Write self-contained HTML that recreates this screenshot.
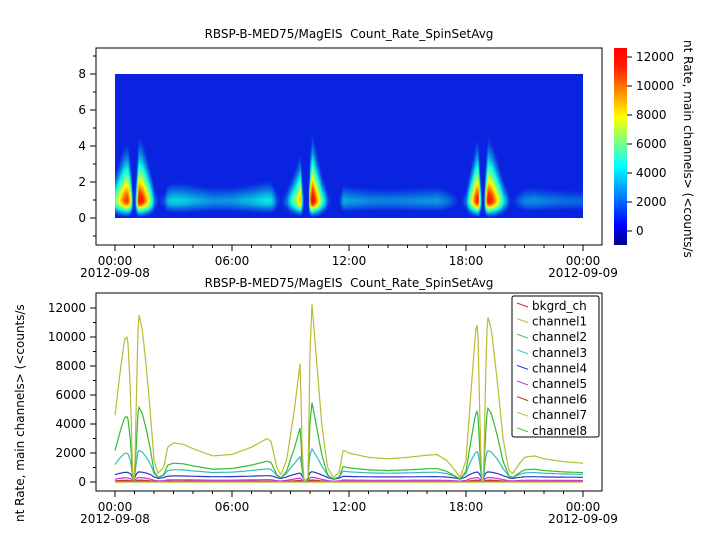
<!DOCTYPE html>
<html><head><meta charset="utf-8"><style>
body{margin:0;background:#fff;width:722px;height:539px;overflow:hidden;font-family:"DejaVu Sans","Liberation Sans",sans-serif}
svg text{font-family:"DejaVu Sans","Liberation Sans",sans-serif;font-size:12px;fill:#000;white-space:pre}
#hm{position:absolute;left:115px;top:74px}
#svg{position:absolute;left:0;top:0}
</style></head><body>
<canvas id="hm" width="468" height="144"></canvas>
<svg id="svg" width="722" height="539" xmlns="http://www.w3.org/2000/svg">
<defs><linearGradient id="jet" x1="0" y1="1" x2="0" y2="0">
<stop offset="0" stop-color="#000090"/><stop offset="0.1" stop-color="#0000ff"/><stop offset="0.4" stop-color="#00ffff"/><stop offset="0.65" stop-color="#ffff00"/><stop offset="0.9" stop-color="#ff2000"/><stop offset="1" stop-color="#ff0000"/></linearGradient></defs>
<text x="349" y="38" text-anchor="middle" xml:space="preserve">RBSP-B-MED75/MagEIS  Count_Rate_SpinSetAvg</text>
<text x="349" y="287" text-anchor="middle" xml:space="preserve">RBSP-B-MED75/MagEIS  Count_Rate_SpinSetAvg</text>
<rect x="96" y="48" width="506" height="197" fill="none" stroke="#000"/>
<rect x="96" y="293" width="506" height="198" fill="none" stroke="#000"/>
<rect x="614" y="48" width="13" height="197" fill="url(#jet)"/>
<g id="ax"></g>
<g id="lines" fill="none" stroke-width="1.2"></g>
<rect x="512" y="296" width="87" height="141" fill="#fff" stroke="#000" rx="2"/>
<g id="leg"></g>
<text transform="translate(684,40) rotate(90)" font-size="12">nt Rate, main channels&gt; (&lt;counts/s</text>
<text transform="translate(24,522) rotate(-90)" font-size="12">nt Rate, main channels&gt; (&lt;counts/s</text>
</svg>
<script>
var K=[[0,4600],[0.3,8000],[0.5,9900],[0.65,10000],[0.8,6000],[0.9,500],[1.0,0],[1.05,3000],[1.2,11700],[1.4,10500],[1.6,8000],[1.8,5000],[2.0,1500],[2.2,600],[2.5,1000],[2.7,2400],[3.0,2700],[3.5,2600],[4.0,2300],[5.0,1800],[6.0,1900],[7.0,2400],[7.8,3000],[8.0,2800],[8.3,1000],[8.5,500],[8.8,1500],[9.2,5000],[9.5,8300],[9.6,2000],[9.7,0],[9.9,300],[10.0,9000],[10.1,12300],[10.3,9000],[10.6,4000],[10.9,1000],[11.2,300],[11.5,700],[11.7,2200],[12.0,2000],[13,1700],[14,1600],[15,1700],[16,1850],[16.5,1900],[17,1500],[17.5,700],[17.7,300],[18,1500],[18.3,7000],[18.5,10500],[18.6,11000],[18.7,5000],[18.8,0],[18.9,0],[19.0,7000],[19.1,11500],[19.3,10500],[19.6,7000],[19.9,3000],[20.2,800],[20.4,600],[20.7,1200],[21,1700],[21.5,1800],[22,1600],[23,1400],[24,1300]];
function c1(t){for(var i=1;i<K.length;i++){if(t<=K[i][0]){var a=K[i-1],b=K[i],f=(t-a[0])/(b[0]-a[0]);return a[1]+f*(b[1]-a[1]);}}return 1300;}
function cl(v){return Math.max(0,Math.min(1,v));}
function jet(n){return [cl(1.5-Math.abs(4*n-3)),cl(1.5-Math.abs(4*n-2)),cl(1.5-Math.abs(4*n-1))];}
var cv=document.getElementById('hm'),cx=cv.getContext('2d'),W=468,H=144,im=cx.createImageData(W,H);
for(var x=0;x<W;x++){var t=x/W*24,v1=c1(t),pk=cl(v1/12000),A=11500*Math.pow(pk,0.85);
 for(var y=0;y<H;y++){var e=8-y/18,g;
  if(e<1)g=Math.exp(-Math.pow((1-e)/0.6,2));else g=Math.exp(-Math.pow((e-1)/(0.5+1.5*pk),1.5));
  var V=700+A*g;var n=(V+620)/13585;var c=jet(n);var o=(y*W+x)*4;
  im.data[o]=Math.max(c[0]*255,10);im.data[o+1]=Math.max(c[1]*255,35);im.data[o+2]=Math.min(c[2]*255,225);im.data[o+3]=255;}}
cx.putImageData(im,0,0);
var ns="http://www.w3.org/2000/svg";
function el(p,tag,at,txt){var e=document.createElementNS(ns,tag);for(var k in at)e.setAttribute(k,at[k]);if(txt!=null)e.textContent=txt;document.getElementById(p).appendChild(e);return e;}
function xaxis(yb){for(var h=0;h<=24;h++){var x=115+h*19.5;el('ax','line',{x1:x,x2:x,y1:yb,y2:yb+(h%6?3:6),stroke:'#000'});}
 var L=[[0,'00:00','2012-09-08'],[6,'06:00'],[12,'12:00'],[18,'18:00'],[24,'00:00','2012-09-09']];
 L.forEach(function(l){var x=115+l[0]*19.5;el('ax','text',{x:x,y:yb+20,'text-anchor':'middle'},l[1]);if(l[2])el('ax','text',{x:x,y:yb+32,'text-anchor':'middle'},l[2]);});}
xaxis(245);xaxis(491);
for(var v=-1;v<=9;v++){var y=218-v*18;el('ax','line',{x1:96,x2:96-(v%2?3:6),y1:y,y2:y,stroke:'#000'});if(v%2==0&&v>=0)el('ax','text',{x:86,y:y+4,'text-anchor':'end'},v);}
for(var v=0;v<=12000;v+=1000){var y=482-v*0.0145;el('ax','line',{x1:96,x2:96-(v%2000?3:6),y1:y,y2:y,stroke:'#000'});if(v%2000==0)el('ax','text',{x:86,y:y+4,'text-anchor':'end'},v);}
for(var v=0;v<=12000;v+=2000){var y=231-v*0.0145;el('ax','line',{x1:627,x2:632,y1:y,y2:y,stroke:'#000'});el('ax','text',{x:636,y:y+4},v);}
var S=[['bkgrd_ch','#cc3333',function(v){return 30+v*0.004}],['channel8','#33bb33',function(v){return 0}],['channel6','#cc3333',function(v){return 60*Math.pow(v/3000,0.6)}],['channel5','#cc33cc',function(v){return 160*Math.pow(v/3000,0.5)}],['channel4','#3333cc',function(v){return 420*Math.pow(v/2700,0.35)}],['channel3','#33bbbb',function(v){return 850*Math.pow(v/2700,0.65)}],['channel2','#33bb33',function(v){return 1300*Math.pow(v/2700,0.95)}],['channel7','#bbbb33',function(v){return 0}],['channel1','#bbbb33',function(v){return v}]];
S.forEach(function(s){var d='';for(var x=0;x<=468;x++){var t=x/468*24,v=s[2](c1(t));var y=482-v*0.0145;d+=(x?'L':'M')+(115+x)+','+y.toFixed(1);}el('lines','path',{d:d,stroke:s[1]});});
var lg=[['bkgrd_ch','#cc3333'],['channel1','#bbbb33'],['channel2','#33bb33'],['channel3','#33bbbb'],['channel4','#3333cc'],['channel5','#cc33cc'],['channel6','#cc3333'],['channel7','#bbbb33'],['channel8','#33bb33']];
lg.forEach(function(l,i){var y=306+i*15.6;el('leg','line',{x1:517,x2:528,y1:y-3,y2:y+1,stroke:l[1]});el('leg','text',{x:532,y:y+4},l[0]);});
</script>
</body></html>
